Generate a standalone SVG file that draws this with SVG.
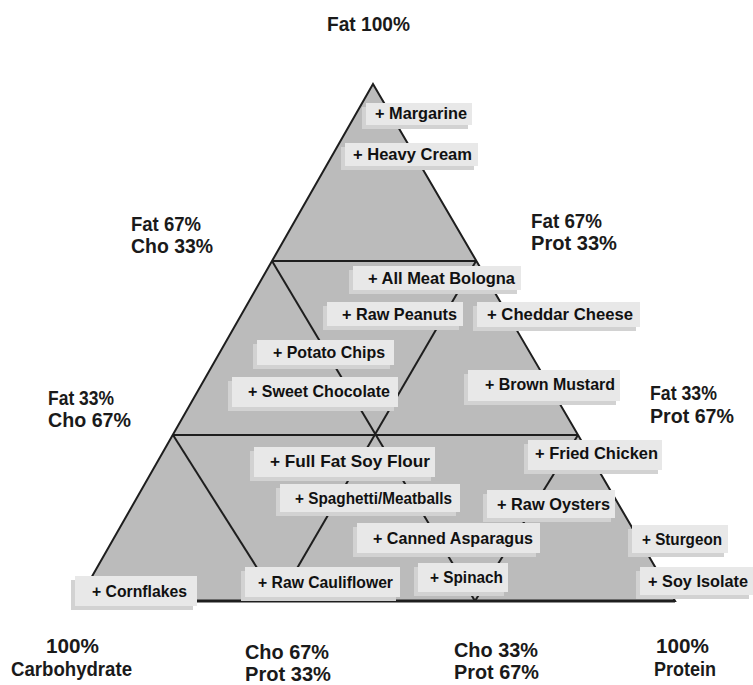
<svg xmlns="http://www.w3.org/2000/svg" width="753" height="685" viewBox="0 0 753 685">
<defs>
<style>
.axis{font-family:"Liberation Sans",Arial,sans-serif;font-weight:bold;font-size:21px;fill:#1a1a1a}
.lbl{font-family:"Liberation Sans",Arial,sans-serif;font-weight:bold;font-size:16.5px;fill:#111}
.box{fill:#e8e8e8}
.shd{fill:#d2d2d2}
.ln{stroke:#1e1e1e;stroke-width:2;fill:none}
</style>
</defs>
<rect x="0" y="0" width="753" height="685" fill="#ffffff"/>
<polygon id="triangle" points="373,84 78,601 675,601" fill="#bbbbbb"/>
<g id="connectors">
<polygon class="ln" points="373,84 78,601 675,601"/>
<line class="ln" x1="272" y1="261" x2="476" y2="261"/>
<line class="ln" x1="173" y1="435" x2="578" y2="435"/>
<line class="ln" x1="272" y1="261" x2="475" y2="601"/>
<line class="ln" x1="476" y1="261" x2="278" y2="601"/>
<line class="ln" x1="173" y1="435" x2="278" y2="601"/>
<line class="ln" x1="578" y1="435" x2="475" y2="601"/>
<line x1="78" y1="601" x2="675" y2="601" stroke="#1e1e1e" stroke-width="3"/>
</g>
<g id="axis-labels">
<text class="axis" x="327" y="31" textLength="83" lengthAdjust="spacingAndGlyphs">Fat 100%</text>
<text class="axis" x="131" y="231" textLength="70" lengthAdjust="spacingAndGlyphs">Fat 67%</text>
<text class="axis" x="131" y="253" textLength="82" lengthAdjust="spacingAndGlyphs">Cho 33%</text>
<text class="axis" x="531" y="228" textLength="71" lengthAdjust="spacingAndGlyphs">Fat 67%</text>
<text class="axis" x="531" y="250" textLength="86" lengthAdjust="spacingAndGlyphs">Prot 33%</text>
<text class="axis" x="48" y="405" textLength="66" lengthAdjust="spacingAndGlyphs">Fat 33%</text>
<text class="axis" x="48" y="427" textLength="83" lengthAdjust="spacingAndGlyphs">Cho 67%</text>
<text class="axis" x="650" y="400" textLength="67" lengthAdjust="spacingAndGlyphs">Fat 33%</text>
<text class="axis" x="650" y="423" textLength="84" lengthAdjust="spacingAndGlyphs">Prot 67%</text>
<text class="axis" x="46" y="653" textLength="53" lengthAdjust="spacingAndGlyphs">100%</text>
<text class="axis" x="11" y="676" textLength="121" lengthAdjust="spacingAndGlyphs">Carbohydrate</text>
<text class="axis" x="245" y="659" textLength="84" lengthAdjust="spacingAndGlyphs">Cho 67%</text>
<text class="axis" x="245" y="681" textLength="86" lengthAdjust="spacingAndGlyphs">Prot 33%</text>
<text class="axis" x="454" y="657" textLength="84" lengthAdjust="spacingAndGlyphs">Cho 33%</text>
<text class="axis" x="454" y="679" textLength="85" lengthAdjust="spacingAndGlyphs">Prot 67%</text>
<text class="axis" x="656" y="653" textLength="53" lengthAdjust="spacingAndGlyphs">100%</text>
<text class="axis" x="654" y="676" textLength="62" lengthAdjust="spacingAndGlyphs">Protein</text>
</g>
<g id="margarine"><rect class="shd" x="362" y="107" width="106" height="22"/><rect class="box" x="366" y="103" width="106" height="22"/><text class="lbl" x="375" y="119" textLength="92" lengthAdjust="spacingAndGlyphs">+ Margarine</text></g>
<g id="heavy-cream"><rect class="shd" x="341" y="147" width="133" height="23"/><rect class="box" x="345" y="143" width="133" height="23"/><text class="lbl" x="353" y="160" textLength="119" lengthAdjust="spacingAndGlyphs">+ Heavy Cream</text></g>
<g id="all-meat-bologna"><rect class="shd" x="349" y="270" width="168" height="24"/><rect class="box" x="353" y="266" width="168" height="24"/><text class="lbl" x="368" y="284" textLength="147" lengthAdjust="spacingAndGlyphs">+ All Meat Bologna</text></g>
<g id="raw-peanuts"><rect class="shd" x="323" y="306" width="136" height="24"/><rect class="box" x="327" y="302" width="136" height="24"/><text class="lbl" x="342" y="320" textLength="115" lengthAdjust="spacingAndGlyphs">+ Raw Peanuts</text></g>
<g id="cheddar-cheese"><rect class="shd" x="473" y="306" width="163" height="25"/><rect class="box" x="477" y="302" width="163" height="25"/><text class="lbl" x="487" y="320" textLength="146" lengthAdjust="spacingAndGlyphs">+ Cheddar Cheese</text></g>
<g id="potato-chips"><rect class="shd" x="253" y="344" width="137" height="25"/><rect class="box" x="257" y="340" width="137" height="25"/><text class="lbl" x="273" y="358" textLength="112" lengthAdjust="spacingAndGlyphs">+ Potato Chips</text></g>
<g id="sweet-chocolate"><rect class="shd" x="228" y="381" width="166" height="30"/><rect class="box" x="232" y="377" width="166" height="30"/><text class="lbl" x="248" y="397" textLength="142" lengthAdjust="spacingAndGlyphs">+ Sweet Chocolate</text></g>
<g id="brown-mustard"><rect class="shd" x="464" y="374" width="152" height="31"/><rect class="box" x="468" y="370" width="152" height="31"/><text class="lbl" x="485" y="390" textLength="130" lengthAdjust="spacingAndGlyphs">+ Brown Mustard</text></g>
<g id="fried-chicken"><rect class="shd" x="524" y="444" width="134" height="30"/><rect class="box" x="528" y="440" width="134" height="30"/><text class="lbl" x="535" y="459" textLength="123" lengthAdjust="spacingAndGlyphs">+ Fried Chicken</text></g>
<g id="full-fat-soy-flour"><rect class="shd" x="250" y="451" width="181" height="30"/><rect class="box" x="254" y="447" width="181" height="30"/><text class="lbl" x="270" y="467" textLength="160" lengthAdjust="spacingAndGlyphs">+ Full Fat Soy Flour</text></g>
<g id="spaghetti-meatballs"><rect class="shd" x="276" y="488" width="180" height="28"/><rect class="box" x="280" y="484" width="180" height="28"/><text class="lbl" x="295" y="504" textLength="157" lengthAdjust="spacingAndGlyphs">+ Spaghetti/Meatballs</text></g>
<g id="raw-oysters"><rect class="shd" x="483" y="494" width="128" height="28"/><rect class="box" x="487" y="490" width="128" height="28"/><text class="lbl" x="497" y="510" textLength="113" lengthAdjust="spacingAndGlyphs">+ Raw Oysters</text></g>
<g id="canned-asparagus"><rect class="shd" x="353" y="527" width="183" height="30"/><rect class="box" x="357" y="523" width="183" height="30"/><text class="lbl" x="373" y="544" textLength="160" lengthAdjust="spacingAndGlyphs">+ Canned Asparagus</text></g>
<g id="sturgeon"><rect class="shd" x="628" y="529" width="96" height="28"/><rect class="box" x="632" y="525" width="96" height="28"/><text class="lbl" x="642" y="545" textLength="80" lengthAdjust="spacingAndGlyphs">+ Sturgeon</text></g>
<g id="cornflakes"><rect class="shd" x="71" y="580" width="122" height="30"/><rect class="box" x="75" y="576" width="122" height="30"/><text class="lbl" x="92" y="597" textLength="95" lengthAdjust="spacingAndGlyphs">+ Cornflakes</text></g>
<g id="raw-cauliflower"><rect class="shd" x="241" y="571" width="155" height="30"/><rect class="box" x="245" y="567" width="155" height="30"/><text class="lbl" x="258" y="588" textLength="135" lengthAdjust="spacingAndGlyphs">+ Raw Cauliflower</text></g>
<g id="spinach"><rect class="shd" x="414" y="567" width="90" height="29"/><rect class="box" x="418" y="563" width="90" height="29"/><text class="lbl" x="430" y="583" textLength="73" lengthAdjust="spacingAndGlyphs">+ Spinach</text></g>
<g id="soy-isolate"><rect class="shd" x="636" y="571" width="113" height="28"/><rect class="box" x="640" y="567" width="113" height="28"/><text class="lbl" x="648" y="587" textLength="100" lengthAdjust="spacingAndGlyphs">+ Soy Isolate</text></g>
</svg>
